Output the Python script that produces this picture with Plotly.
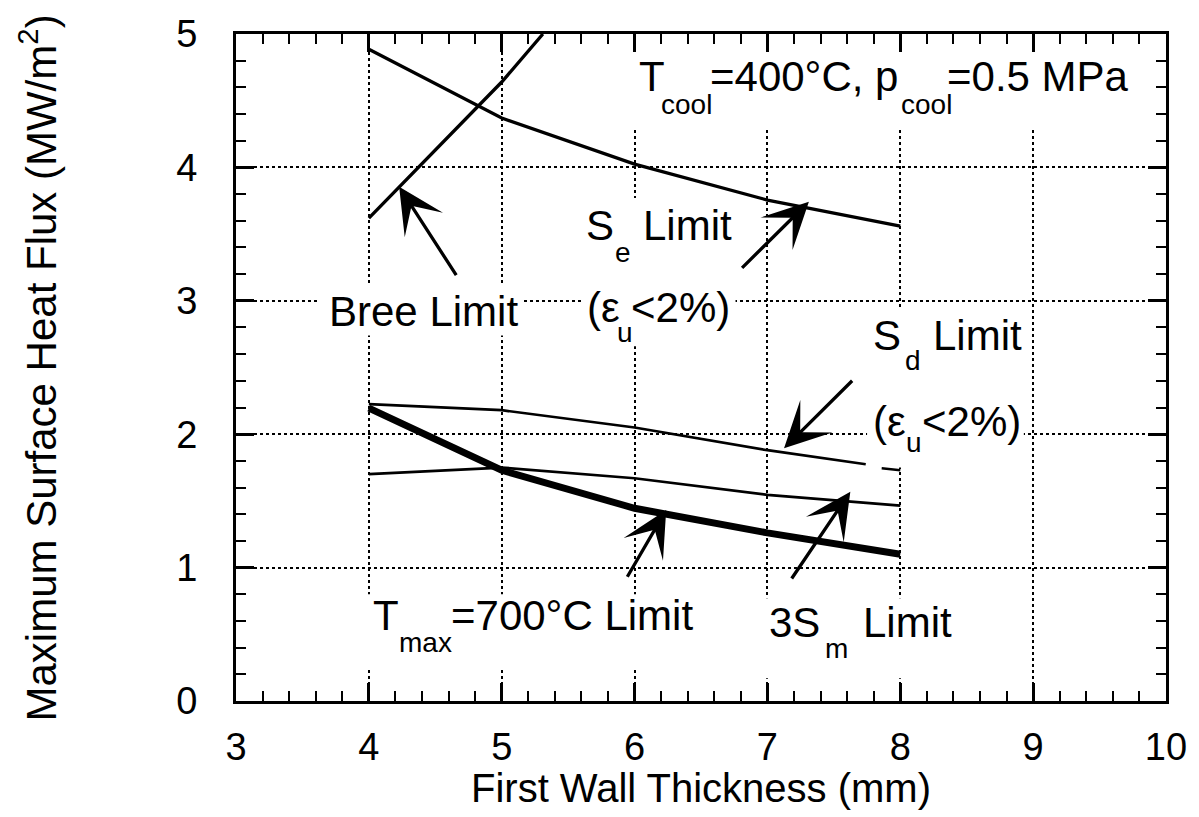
import plotly.graph_objects as go

# ---------------- data ----------------
bree_x = [4.0, 5.0, 5.31]
bree_y = [3.62, 4.64, 5.0]

se_x = [4, 5, 6, 7, 8]
se_y = [4.885, 4.37, 4.025, 3.755, 3.56]

sd_x = [4, 5, 6, 7, 7.74, 7.80, 7.86, 8.0]
sd_y = [2.225, 2.18, 2.05, 1.88, 1.775, None, 1.745, 1.73]

sm3_x = [4, 5, 6, 7, 8]
sm3_y = [1.70, 1.75, 1.67, 1.545, 1.465]

tmax_x = [4, 5, 6, 7, 8]
tmax_y = [2.195, 1.73, 1.445, 1.26, 1.10]

x_ticks = [3, 4, 5, 6, 7, 8, 9, 10]
y_ticks = [0, 1, 2, 3, 4, 5]

# ---------------- geometry ----------------
W, H = 1199, 817
ML, MR, MT, MB = 236, 29, 34, 116
PW, PH = W - ML - MR, H - MT - MB
XR, YR = (3, 10), (0, 5)
FONT = "Liberation Sans, Arial, Helvetica, sans-serif"


def dx(p):
    return XR[0] + (p - ML) * (XR[1] - XR[0]) / PW


def dy(p):
    return YR[0] + (MT + PH - p) * (YR[1] - YR[0]) / PH


def paper_y(p):
    return (MT + PH - p) / PH


def paper_x(p):
    return (p - ML) / PW


fig = go.Figure()

fig.add_trace(go.Scatter(x=bree_x, y=bree_y, mode="lines",
                         line=dict(color="black", width=3.3), showlegend=False))
fig.add_trace(go.Scatter(x=se_x, y=se_y, mode="lines",
                         line=dict(color="black", width=3.3), showlegend=False))
fig.add_trace(go.Scatter(x=sd_x, y=sd_y, mode="lines", connectgaps=False,
                         line=dict(color="black", width=2.7), showlegend=False))
fig.add_trace(go.Scatter(x=sm3_x, y=sm3_y, mode="lines",
                         line=dict(color="black", width=2.7), showlegend=False))
fig.add_trace(go.Scatter(x=tmax_x, y=tmax_y, mode="lines",
                         line=dict(color="black", width=7), showlegend=False))

# ---------------- white masks behind labels (hide gridlines) ----------------
masks = [
    (3.0, 10.0, 4.87, 5.0),
    (5.99, 9.85, 4.30, 5.0),
    (3.62, 5.15, 2.74, 3.12),
    (5.60, 6.76, 2.66, 3.77),
    (7.75, 8.93, 1.75, 2.95),
    (3.95, 6.50, 0.25, 0.80),
    (6.97, 8.40, 0.17, 0.77),
]
for x0, x1, y0, y1 in masks:
    fig.add_shape(type="rect", xref="x", yref="y", x0=x0, x1=x1, y0=y0, y1=y1,
                  fillcolor="white", line=dict(width=0), layer="between")

# ---------------- labels: (text, ink-left px, baseline px, size) ----------------
MAIN, SUB = 42, 28
labels = [
    ("Bree Limit", 330, 326, MAIN),
    ("T", 641.8, 90.7, MAIN), ("cool", 663.5, 114, SUB),
    ("=400°C, p", 713, 90.7, MAIN), ("cool", 904.5, 114, SUB),
    ("=0.5 MPa", 951, 90.7, MAIN),
    ("S", 588.3, 240, MAIN), ("e", 617, 262, SUB), ("Limit", 646, 240, MAIN),
    ("(ε", 589.3, 322, MAIN), ("u", 619, 342, SUB), ("<2%)", 634, 322, MAIN),
    ("S", 876.7, 350, MAIN), ("d", 908, 370, SUB), ("Limit", 936.7, 350, MAIN),
    ("(ε", 876.7, 436, MAIN), ("u", 909, 452, SUB), ("<2%)", 926, 436, MAIN),
    ("T", 375, 630, MAIN), ("max", 400, 651.7, SUB), ("=700°C Limit", 452.7, 630, MAIN),
    ("3S", 772.7, 636.7, MAIN), ("m", 828.3, 658.3, SUB), ("Limit", 866.7, 636.7, MAIN),
]
for text, left, base, size in labels:
    fig.add_annotation(text=text, xref="x", yref="y",
                       x=dx(left - 0.05 * size), y=dy(base - 0.3465 * size),
                       xanchor="left", yanchor="middle", showarrow=False,
                       borderpad=0, font=dict(family=FONT, size=size, color="black"))

# ---------------- arrows: (head x, head y, tail x, tail y) ----------------
arrows = [
    (4.228, 3.855, 4.665, 3.181),
    (7.312, 3.743, 6.798, 3.236),
    (7.125, 1.894, 7.649, 2.412),
    (6.238, 1.432, 5.939, 0.920),
    (7.624, 1.569, 7.175, 0.907),
]
for hx, hy, tx, ty in arrows:
    fig.add_annotation(x=hx, y=hy, ax=tx, ay=ty, xref="x", yref="y",
                       axref="x", ayref="y", text="", showarrow=True,
                       arrowhead=3, arrowsize=2.3, arrowwidth=3.3,
                       arrowcolor="black", standoff=0, startstandoff=0)

# ---------------- axis titles ----------------
fig.add_annotation(text="First Wall Thickness (mm)", xref="paper", yref="paper",
                   x=0.5, y=paper_y(802 - 0.3465 * 40),
                   xanchor="center", yanchor="middle", showarrow=False,
                   font=dict(family=FONT, size=40, color="black"))
fig.add_annotation(text="Maximum Surface Heat Flux (MW/m<sup>2</sup>)",
                   xref="paper", yref="paper",
                   x=paper_x(51.7 - 0.3465 * 42), y=0.5, textangle=-90,
                   xanchor="center", yanchor="middle", showarrow=False,
                   font=dict(family=FONT, size=42, color="black"))

axis_common = dict(
    showline=True, linecolor="black", linewidth=3, mirror="allticks",
    ticks="inside", ticklen=18, tickwidth=2.5, tickcolor="black",
    showgrid=True, gridcolor="black", gridwidth=2, griddash="dot",
    zeroline=False,
    tickfont=dict(family=FONT, size=38, color="black"),
)

fig.update_xaxes(range=list(XR), tickvals=x_ticks, ticktext=[str(v) for v in x_ticks],
                 minor=dict(dtick=0.2, tick0=3, ticks="inside", ticklen=10,
                            tickwidth=2, tickcolor="black", showgrid=False),
                 ticklabelstandoff=10, **axis_common)
fig.update_yaxes(range=list(YR), tickvals=y_ticks, ticktext=[str(v) for v in y_ticks],
                 minor=dict(dtick=0.2, tick0=0, ticks="inside", ticklen=10,
                            tickwidth=2, tickcolor="black", showgrid=False),
                 ticklabelstandoff=28, **axis_common)

fig.update_layout(width=W, height=H, autosize=False,
                  margin=dict(l=ML, r=MR, t=MT, b=MB, pad=0),
                  plot_bgcolor="white", paper_bgcolor="white",
                  showlegend=False)

fig.write_html("out.html")
